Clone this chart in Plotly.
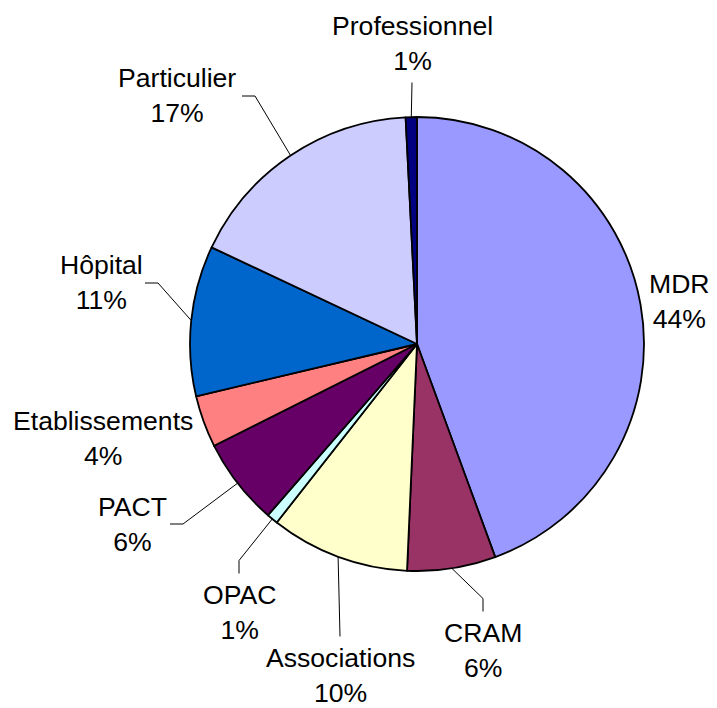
import math
import plotly.graph_objects as go

# ---- data ----
categories = ["MDR", "CRAM", "Associations", "OPAC", "PACT",
              "Etablissements", "Hôpital", "Particulier", "Professionnel"]
values = [44.4, 6.3, 9.9, 0.8, 6.2, 3.7, 10.7, 17.2, 0.8]
colors = ["#9999FF", "#993366", "#FFFFCC", "#CCFFFF", "#660066",
          "#FF8080", "#0066CC", "#CCCCFF", "#000080"]

# ---- layout (pixels of the 717x708 window) ----
OFF = 8                      # default body margin of the html page
W, H = 717 - OFF, 708 - OFF  # figure size so that it fits the window
CX, CY, R = 417, 344, 227
# label block centres (text placement only)
label_pos = [(679, 301), (483, 650), (340, 675), (239, 612), (132, 524),
             (103, 438), (102, 283), (177, 96), (412, 44)]
# how the leader line attaches to the label
attach = ["none", "top", "top", "top", "right", "none", "right", "right", "bottom"]
LINE_H = 35
FONT = 26.6


def px(x):
    return (x - OFF) / W


def py(y):
    return 1 - (y - OFF) / H


total = sum(values)
fig = go.Figure(go.Pie(
    labels=categories, values=values, sort=False, direction="clockwise",
    rotation=0, textinfo="none", hoverinfo="label+percent",
    marker=dict(colors=colors, line=dict(color="black", width=1.8)),
    domain=dict(x=[px(CX - R), px(CX + R)], y=[py(CY + R), py(CY - R)]),
    showlegend=False,
))

annotations = []
shapes = []
cum = 0.0
for name, v, (lx, ly), side in zip(categories, values, label_pos, attach):
    mid = (cum + v / 2) / total * 2 * math.pi
    cum += v
    ex = CX + R * math.sin(mid)
    ey = CY - R * math.cos(mid)
    pct = round(v / total * 100)
    annotations.append(dict(
        x=px(lx), y=py(ly), xref="paper", yref="paper", showarrow=False,
        xanchor="center", yanchor="middle", align="center",
        text=f"{name}<br>{pct}%",
        font=dict(family="Liberation Sans, Arial, sans-serif", size=FONT, color="black"),
    ))
    if side == "none":
        continue
    if side == "right":
        half_w = {"PACT": 38, "Hôpital": 43, "Particulier": 65}.get(name, 50)
        p0 = (lx + half_w, ly)
        p1 = (lx + half_w + 13, ly)
    elif side == "top":
        p0 = (lx, ly - LINE_H * 1.1)
        p1 = (lx, ly - LINE_H * 1.1 - 13) if name != "Associations" else p0
    else:  # bottom
        p0 = (lx, ly + LINE_H * 1.1)
        p1 = p0
    path = (f"M {px(p0[0])},{py(p0[1])} L {px(p1[0])},{py(p1[1])} "
            f"L {px(ex)},{py(ey)}")
    shapes.append(dict(type="path", xref="paper", yref="paper", path=path,
                       line=dict(color="black", width=1)))

fig.update_layout(
    width=W, height=H, margin=dict(l=0, r=0, t=0, b=0),
    paper_bgcolor="white", plot_bgcolor="white",
    annotations=annotations, shapes=shapes,
)
fig.write_html("out.html")
